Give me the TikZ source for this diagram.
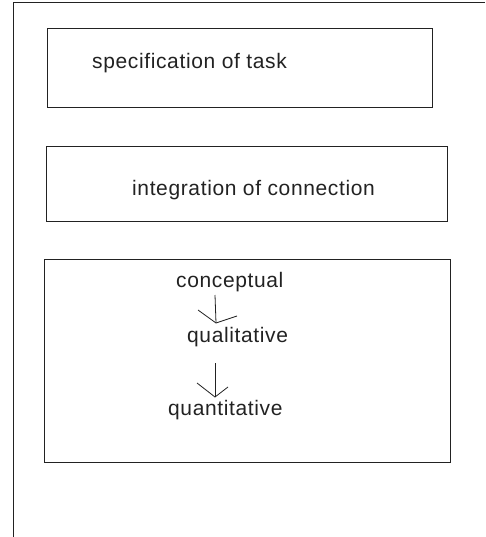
\documentclass[tikz,border=0pt]{standalone}
\usepackage{fontspec}
\setmainfont{Liberation Sans}[LetterSpace=3]
\definecolor{ink}{HTML}{222222}
\begin{document}
\begin{tikzpicture}[x=1pt,y=-1pt,
  frame/.style={draw=ink,line width=1pt},
  boxnode/.style={draw=ink,line width=1pt,rectangle,inner sep=0pt,anchor=north west},
  lbl/.style={font=\fontsize{21}{25}\selectfont,text=ink,inner sep=0pt,anchor=west},
  conn/.style={draw=ink,line width=0.8pt}]
\useasboundingbox (0,0) rectangle (485,537);
% outer frame (left and top sides)
\coordinate (fb) at (13,537);
\coordinate (fc) at (13,3);
\coordinate (fr) at (485,3);
\draw[frame] (fb) -- (fc) -- (fr);
% boxes
\node[boxnode,minimum width=385pt,minimum height=79pt] (b1) at (47,28) {};
\node[boxnode,minimum width=401pt,minimum height=75pt] (b2) at (46,146) {};
\node[boxnode,minimum width=406pt,minimum height=203pt] (b3) at (44,259) {};
% labels
\node[lbl] (t1) at (92,63) {specification of task};
\node[lbl] (t2) at (132,190) {integration of connection};
\node[lbl] (c) at (176,282) {conceptual};
\node[lbl] (ql) at (187,337) {qualitative};
\node[lbl] (qn) at (168,410) {quantitative};
% arrows (hand-drawn heads)
\coordinate (a1s) at (215,295);
\coordinate (a1t) at (216,323);
\coordinate (a1l) at (198,310);
\coordinate (a1r) at (237,316);
\draw[conn] (a1s) -- (a1t);
\draw[conn] (a1l) -- (a1t) -- (a1r);
\coordinate (a2s) at (215,363);
\coordinate (a2t) at (215,397);
\coordinate (a2l) at (197,383);
\coordinate (a2r) at (228,387);
\draw[conn] (a2s) -- (a2t);
\draw[conn] (a2l) -- (a2t) -- (a2r);
\end{tikzpicture}
\end{document}
